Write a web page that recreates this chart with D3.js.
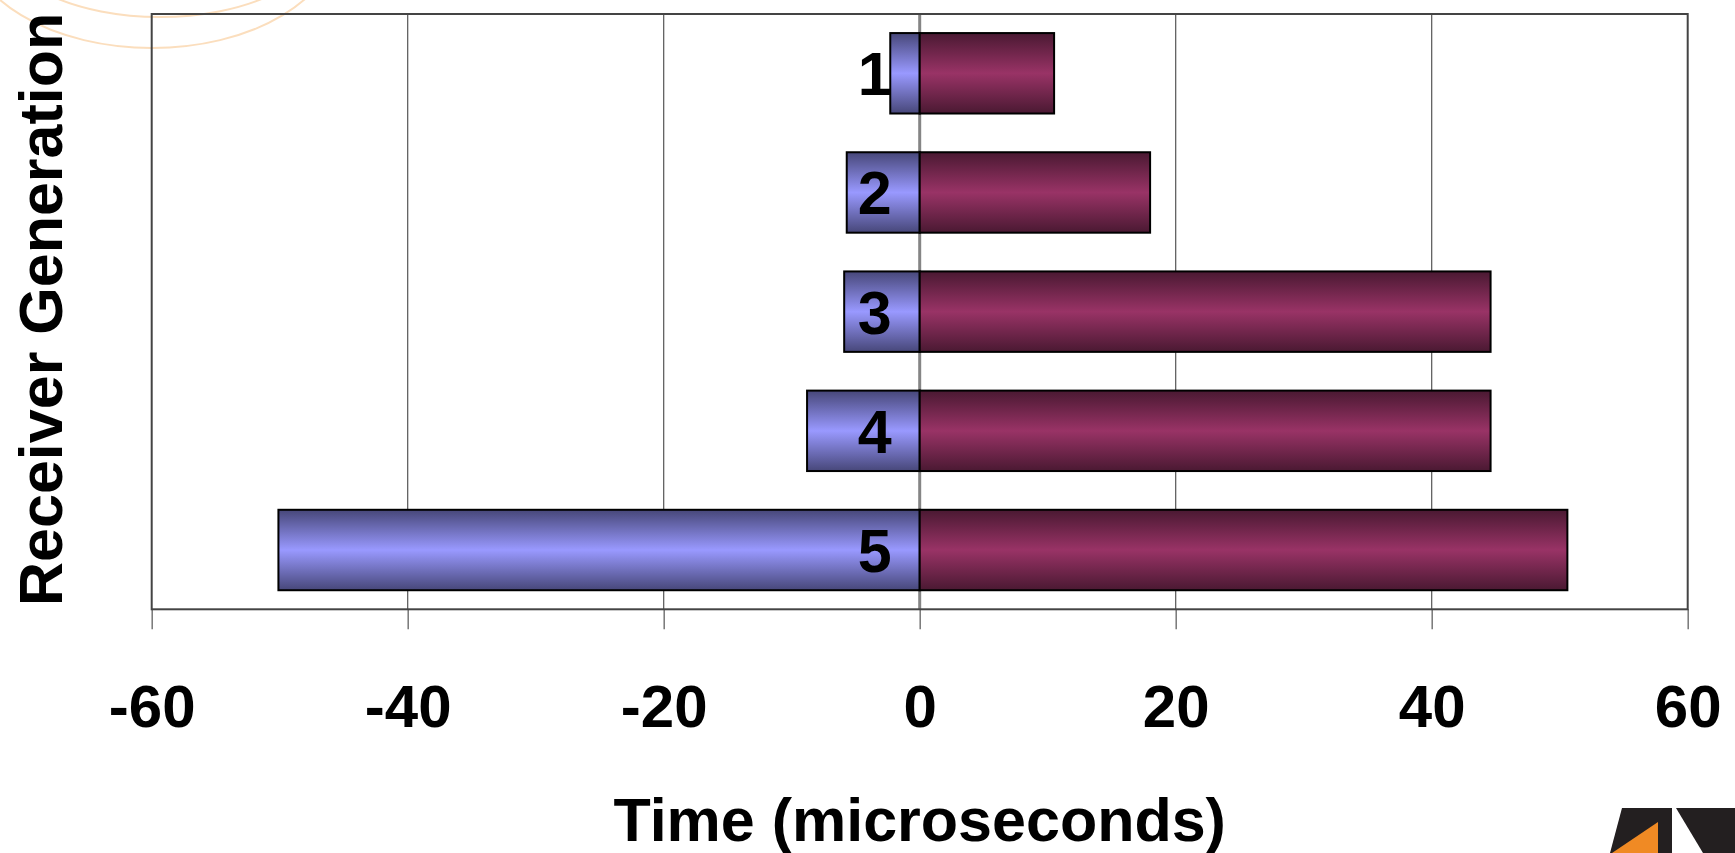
<!DOCTYPE html>
<html>
<head>
<meta charset="utf-8">
<script src="https://cdn.jsdelivr.net/npm/d3@7"></script>
<style>
  html, body { margin: 0; padding: 0; background: #fff; }
  svg { display: block; }
  text { font-family: "Liberation Sans", Arial, sans-serif; font-weight: bold; fill: #000; }
</style>
</head>
<body>
<svg id="chart" width="1735" height="853"></svg>
<script>
// ---- data ----
const categories = ["1", "2", "3", "4", "5"];
const negativeValues = [-2.3, -5.7, -5.9, -8.8, -50.1];
const positiveValues = [10.5, 18.0, 44.6, 44.6, 50.6];
const xTicks = [-60, -40, -20, 0, 20, 40, 60];
const xTitle = "Time (microseconds)";
const yTitle = "Receiver Generation";

// ---- layout ----
const plot = { left: 151.7, right: 1687.7, top: 14, bottom: 609.3 };

const svg = d3.select("#chart");

const x = d3.scaleLinear().domain([-60, 60]).range([plot.left, plot.right]);
const y = d3.scaleBand().domain(categories).range([plot.top, plot.bottom])
  .paddingInner(0.325).paddingOuter(0.16);

// gradients
const defs = svg.append("defs");
function grad(id, edge, mid) {
  const g = defs.append("linearGradient").attr("id", id)
    .attr("x1", 0).attr("y1", 0).attr("x2", 0).attr("y2", 1);
  g.append("stop").attr("offset", "0%").attr("stop-color", edge);
  g.append("stop").attr("offset", "50%").attr("stop-color", mid);
  g.append("stop").attr("offset", "100%").attr("stop-color", edge);
}
grad("gBlue", "#474779", "#9999ff");
grad("gMaroon", "#4a1932", "#993366");

// decorative faint arcs (top-left), visible through the plot area
const deco = svg.append("g").attr("fill", "none").attr("stroke", "#fbd6ad").attr("stroke-width", 2).attr("opacity", 0.8);
deco.append("ellipse").attr("cx", 160).attr("cy", -62).attr("rx", 160).attr("ry", 79);
deco.append("ellipse").attr("cx", 152).attr("cy", -64).attr("rx", 185).attr("ry", 112);

// gridlines
svg.append("g").selectAll("line").data(xTicks.filter(d => d !== 0 && d !== -60 && d !== 60))
  .join("line")
  .attr("x1", d => x(d)).attr("x2", d => x(d))
  .attr("y1", plot.top).attr("y2", plot.bottom)
  .attr("stroke", "#555").attr("stroke-width", 1.2);

// x axis (ticks below plot)
const xAxis = d3.axisBottom(x).tickValues(xTicks).tickSize(20).tickFormat(d => d);
const gx = svg.append("g").attr("transform", `translate(0,${plot.bottom})`).call(xAxis);
gx.select(".domain").remove();
gx.selectAll(".tick line").attr("stroke", "#777").attr("stroke-width", 1.5);
gx.selectAll(".tick text")
  .attr("y", 0).attr("dy", 0)
  .attr("transform", "translate(0,118)")
  .style("font-family", "'Liberation Sans', Arial, sans-serif")
  .style("font-weight", "bold").style("font-size", "60px").attr("fill", "#000");

// zero line
svg.append("line").attr("x1", x(0)).attr("x2", x(0))
  .attr("y1", plot.top).attr("y2", plot.bottom)
  .attr("stroke", "#858585").attr("stroke-width", 3);

// plot border
svg.append("rect").attr("x", plot.left).attr("y", plot.top)
  .attr("width", plot.right - plot.left).attr("height", plot.bottom - plot.top)
  .attr("fill", "none").attr("stroke", "#444").attr("stroke-width", 2);

// bars
const rows = categories.map((c, i) => ({ c, neg: negativeValues[i], pos: positiveValues[i] }));
const bars = svg.append("g");
bars.selectAll("rect.neg").data(rows).join("rect").attr("class", "neg")
  .attr("x", d => x(d.neg)).attr("width", d => x(0) - x(d.neg))
  .attr("y", d => y(d.c)).attr("height", y.bandwidth())
  .attr("fill", "url(#gBlue)").attr("stroke", "#000").attr("stroke-width", 2);
bars.selectAll("rect.pos").data(rows).join("rect").attr("class", "pos")
  .attr("x", x(0)).attr("width", d => x(d.pos) - x(0))
  .attr("y", d => y(d.c)).attr("height", y.bandwidth())
  .attr("fill", "url(#gMaroon)").attr("stroke", "#000").attr("stroke-width", 2);

// category labels
svg.append("g").selectAll("text").data(categories).join("text")
  .attr("x", x(0) - 28)
  .attr("y", d => y(d) + y.bandwidth() / 2 + 22)
  .attr("text-anchor", "end")
  .style("font-size", "61px")
  .text(d => d);

// axis titles
svg.append("text").attr("x", (plot.left + plot.right) / 2 + 0).attr("y", 841)
  .attr("text-anchor", "middle").style("font-size", "61px").text(xTitle);
svg.append("text")
  .attr("transform", `translate(62,606) rotate(-90)`)
  .attr("text-anchor", "start").style("font-size", "61px").text(yTitle);

// logo (bottom-right)
const logo = svg.append("g");
logo.append("polygon").attr("points", "1622,808 1672,808 1672,853 1610,853").attr("fill", "#231f20");
logo.append("polygon").attr("points", "1658,822 1658,853 1612,853").attr("fill", "#f08a24");
logo.append("polygon").attr("points", "1676,808 1735,808 1735,853 1703,853").attr("fill", "#231f20");
</script>
</body>
</html>
